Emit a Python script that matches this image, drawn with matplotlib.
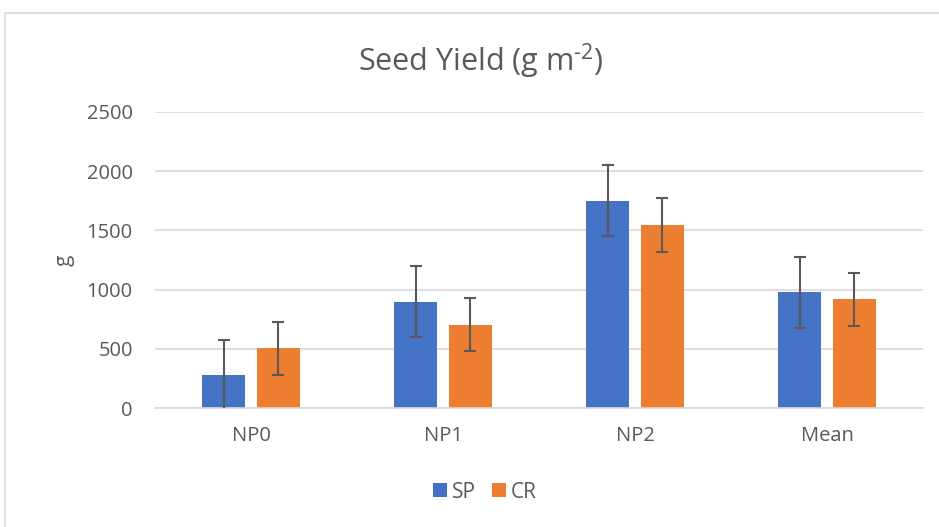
import matplotlib
matplotlib.use("Agg")
import matplotlib.pyplot as plt
import numpy as np
from matplotlib.patches import Rectangle

categories = ["NP0", "NP1", "NP2", "Mean"]
sp_values = [280, 900, 1750, 977]
cr_values = [505, 705, 1545, 918]
sp_err = [300, 300, 300, 300]
cr_err = [225, 225, 225, 225]
yticks = [0, 500, 1000, 1500, 2000, 2500]

plt.rcParams["font.family"] = ["Open Sans", "DejaVu Sans"]
plt.rcParams["mathtext.fontset"] = "custom"
plt.rcParams["mathtext.rm"] = "Open Sans"
txt = "#595959"

fig = plt.figure(figsize=(9.39, 5.27), dpi=100)
# chart area border
fig.patches.append(Rectangle((5 / 939, -0.05), 1.1, 1 - 13 / 527 + 0.05,
                             transform=fig.transFigure, fill=False,
                             edgecolor="#D9D9D9", lw=1.2))
ax = fig.add_axes([155 / 939, 1 - 408.3 / 527, 768 / 939, (408.3 - 111.8) / 527])

x = np.arange(len(categories))
w = 0.223
off = 0.143
ekw = dict(ecolor="#595959", elinewidth=1.5, capsize=4.5, capthick=1.5)
ax.bar(x - off, sp_values, w, color="#4472C4", label="SP", zorder=2)
ax.bar(x + off, cr_values, w, color="#ED7D31", label="CR", zorder=2)
ax.errorbar(x - off, sp_values, yerr=sp_err, fmt="none", zorder=3, **ekw)
ax.errorbar(x + off, cr_values, yerr=cr_err, fmt="none", zorder=3, **ekw)

ax.set_ylim(0, 2500)
ax.set_xlim(-0.5, 3.5)
ax.set_yticks(yticks)
ax.set_xticks(x)
ax.set_xticklabels(categories)
ax.grid(axis="y", color="#D9D9D9", lw=1.2, zorder=0)
ax.set_axisbelow(True)
for s in ["top", "right", "left"]:
    ax.spines[s].set_visible(False)
ax.spines["bottom"].set_color("#D9D9D9")
ax.spines["bottom"].set_linewidth(1.2)
ax.tick_params(axis="both", length=0, labelsize=14.5, colors=txt)
ax.tick_params(axis="y", pad=16)
ax.tick_params(axis="x", pad=13)
ax.set_ylabel("g", fontsize=15, color=txt)
ax.yaxis.set_label_coords(-0.105, 0.5)

fig.text(481 / 939, 1 - 61 / 527, r"Seed Yield (g m$^{\text{-2}}$)", ha="center",
         va="center", fontsize=22, color=txt)
fig.legend(loc="center", bbox_to_anchor=(485 / 939, 1 - 492 / 527), ncol=2, frameon=False,
           fontsize=15, labelcolor=txt, handlelength=0.67, handleheight=0.67,
           handletextpad=0.25, columnspacing=0.77)

fig.savefig("out.png", dpi=100)
